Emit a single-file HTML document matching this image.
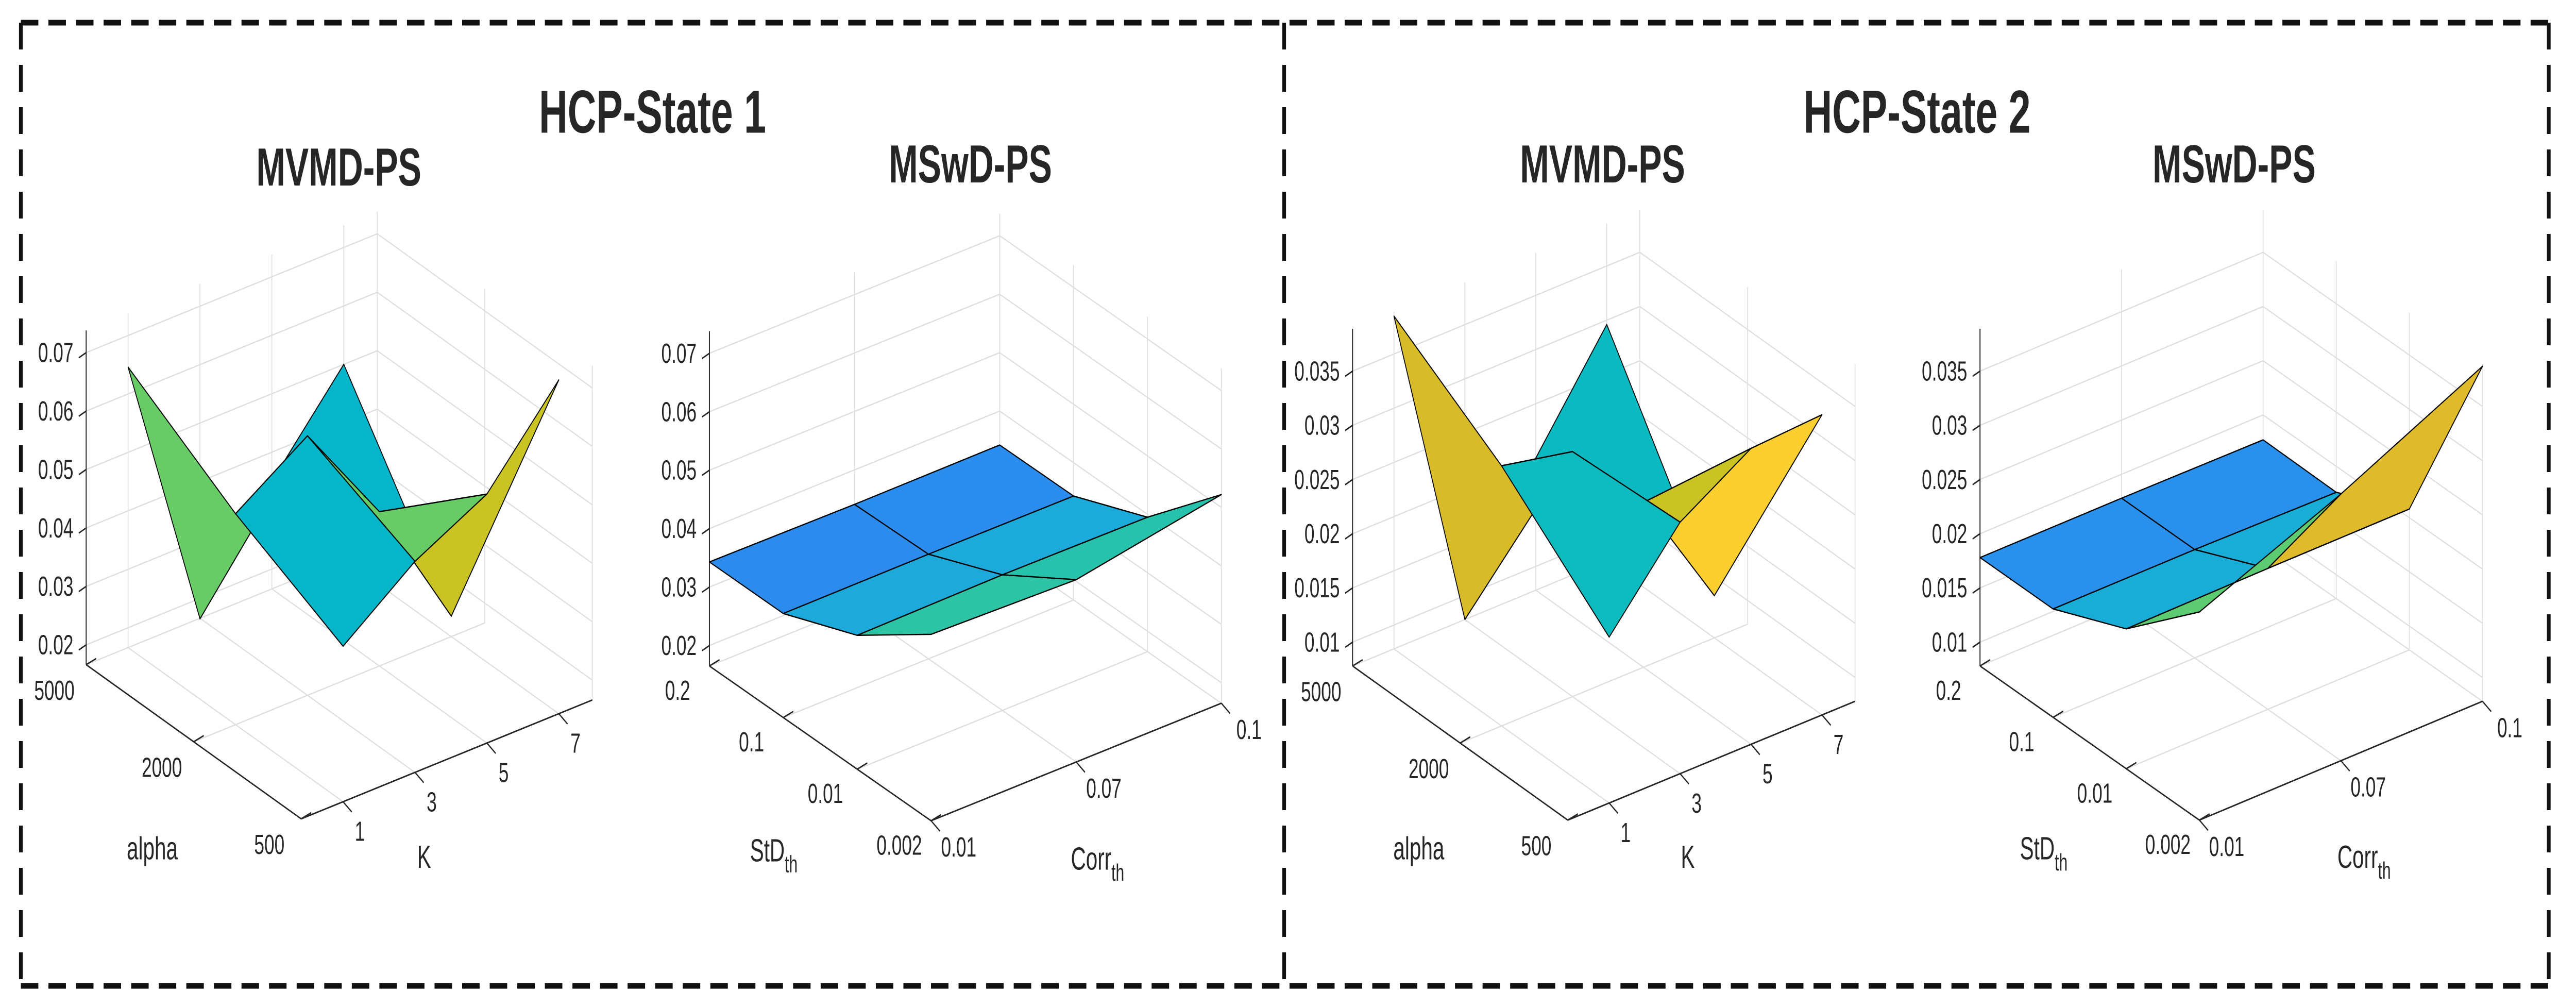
<!DOCTYPE html>
<html><head><meta charset="utf-8"><style>
html,body{margin:0;padding:0;background:#fff;width:100%;height:100%;overflow:hidden;}
svg{display:block;width:100vw;height:100vh;}
text{font-family:"Liberation Sans",Arial,sans-serif;fill:#262626;}
</style></head>
<body>
<svg id="fig" viewBox="0 0 7659 1954" preserveAspectRatio="none" xmlns="http://www.w3.org/2000/svg">
<rect x="0" y="0" width="7659" height="1954" fill="#fff"/>
<g id="layer"></g>
</svg>
<script>
// ---- data ----
const alphaTicks = ['5000','2000','500'];
const kTicks = ['1','3','5','7'];
const stdTicks = ['0.2','0.1','0.01','0.002'];
const corrTicks = ['0.01','0.07','0.1'];
const zTicksState1 = [0.02,0.03,0.04,0.05,0.06,0.07];
const zTicksState2 = [0.01,0.015,0.02,0.025,0.03,0.035];
// rows: alpha 5000,2000,500 ; cols: K 1,3,5,7
const mvmd1 = [
  [0.0646,0.0165,0.0350,0.0500],
  [0.0527,0.0610,0.0430,0.0201],
  [0.0432,0.0527,0.0592,0.0737]];
// rows: StD 0.2,0.1,0.01,0.002 ; cols: Corr 0.01,0.07,0.1
const mswd1 = [
  [0.0343,0.0341,0.0342],
  [0.0343,0.0344,0.0343],
  [0.0394,0.0397,0.0395],
  [0.0484,0.0477,0.0522]];
const mvmd2 = [
  [0.0385,0.0078,0.0200,0.0296],
  [0.0318,0.0304,0.0230,0.0117],
  [0.0231,0.0310,0.0351,0.0355]];
const mswd2 = [
  [0.0178,0.0178,0.0177],
  [0.0178,0.0178,0.0176],
  [0.0207,0.0208,0.0208],
  [0.0270,0.0324,0.0387]];

const NS='http://www.w3.org/2000/svg';
const layer=document.getElementById('layer');
function mk(tag,attrs,parent){const e=document.createElementNS(NS,tag);for(const k in attrs)e.setAttribute(k,attrs[k]);(parent||layer).appendChild(e);return e;}

const cmap=[[0,[62,38,168]],[0.15,[74,82,240]],[0.31,[43,140,237]],[0.4,[30,169,219]],[0.47,[3,183,200]],[0.5,[16,188,187]],[0.56,[47,196,165]],[0.63,[102,204,102]],[0.745,[201,195,36]],[0.78,[219,185,42]],[0.88,[252,207,48]],[1,[249,251,14]]];
function col(t){t=Math.max(0,Math.min(1,t));for(let i=1;i<cmap.length;i++){if(t<=cmap[i][0]){const a=cmap[i-1],b=cmap[i];const f=(t-a[0])/(b[0]-a[0]);const c=a[1].map((v,j)=>Math.round(v+(b[1][j]-v)*f));return 'rgb('+c.join(',')+')';}}return 'rgb(249,251,14)';}

function dline(x1,y1,x2,y2,name){
  const l=mk('line',{x1:x1,y1:y1,x2:x2,y2:y2,stroke:'#111','stroke-width':11,'stroke-dasharray':'52 30'});
  
  
}
dline(62,44,7578,44,'panel-border-top');
dline(62,1913,7578,1913,'panel-border-bottom');
dline(62,44,62,1913,'panel-border-left');
dline(7578,44,7578,1913,'panel-border-right');
dline(3818,44,3818,1913,'panel-divider');

function txt(x,y,s,size,opts,name){
  const t=mk('text',{x:x,y:y,'font-size':size,'text-anchor':(opts&&opts.anchor)||'middle','dominant-baseline':'central','font-weight':(opts&&opts.bold)?'bold':'normal'});
  t.textContent=s;
  
  
  return t;
}

function plot(cfg){
  const g=mk('g',{});
  
  
  const sx=cfg.sx, sy=1954/1568, off=cfg.off;
  const fa=cfg.fa, fk=cfg.fk;
  function P(a,k,z){
    const x=cfg.A[0]+a*(cfg.B[0]-cfg.A[0])+k*(cfg.C[0]-cfg.B[0]);
    const y=cfg.A[1]+a*(cfg.B[1]-cfg.A[1])+k*(cfg.C[1]-cfg.B[1])-(z-cfg.zmin)*cfg.ppu;
    return [off+x*sx,y*sy];
  }
  const zmin=cfg.zmin,zmax=cfg.zmax;
  const line=(p,q,st,w,name)=>{const l=mk('line',{x1:p[0],y1:p[1],x2:q[0],y2:q[1],stroke:st,'stroke-width':w},g);return l;};
  const GR='#dedede';
  fk.forEach((k,i)=>line(P(0,k,zmin),P(0,k,zmax),GR,2.5,'grid-line'));
  fa.forEach((a,i)=>line(P(a,1,zmin),P(a,1,zmax),GR,2.5,'grid-line'));
  cfg.zt.forEach(z=>{line(P(0,0,z),P(0,1,z),GR,2.5,'grid-line');line(P(0,1,z),P(1,1,z),GR,2.5,'grid-line');});
  fa.forEach(a=>line(P(a,0,zmin),P(a,1,zmin),GR,2.5,'grid-line'));
  fk.forEach(k=>line(P(0,k,zmin),P(1,k,zmin),GR,2.5,'grid-line'));
  line(P(0,0,zmin),P(0,0,zmax),'#262626',3,'z-axis');
  line(P(0,0,zmin),P(1,0,zmin),'#262626',3,cfg.rowAxisName);
  line(P(1,0,zmin),P(1,1,zmin),'#262626',3,cfg.colAxisName);
  cfg.zt.forEach(z=>{
    const p=P(0,0,z);
    line(p,[p[0]-22,p[1]+10],'#262626',3,'z-tick');
    txt(p[0]-38,p[1],String(z),54,{anchor:'end'},'z-tick-label');
  });
  cfg.rowLabels.forEach((s,i)=>{
    const p=P(fa[i],0,zmin);
    line(p,[p[0]+30,p[1]-12],'#262626',3,'row-tick');
    txt(p[0]+cfg.rowOff[0]*sx,p[1]+cfg.rowOff[1]*sy,s,54,{},'row-tick-label');
  });
  cfg.colLabels.forEach((s,i)=>{
    const p=P(1,fk[i],zmin);
    line(p,[p[0]+26,p[1]+20],'#262626',3,'col-tick');
    txt(p[0]+cfg.colOff[0]*sx,p[1]+cfg.colOff[1]*sy,s,54,{},'col-tick-label');
  });
  const Z=cfg.Z;const faces=[];
  for(let i=0;i<Z.length-1;i++)for(let j=0;j<Z[0].length-1;j++){
    faces.push({i,j,key:(fa[i]+fa[i+1])/2-(fk[j]+fk[j+1])/2});
  }
  faces.sort((a,b)=>a.key-b.key);
  faces.forEach(f=>{
    const i=f.i,j=f.j;
    const pts=[P(fa[i],fk[j],Z[i][j]),P(fa[i],fk[j+1],Z[i][j+1]),P(fa[i+1],fk[j+1],Z[i+1][j+1]),P(fa[i+1],fk[j],Z[i+1][j])];
    const c=col((Z[i+1][j]-zmin)/(zmax-zmin));
    const pg=mk('polygon',{points:pts.map(p=>p[0].toFixed(1)+','+p[1].toFixed(1)).join(' '),fill:c,stroke:'#000','stroke-width':2.5,'stroke-linejoin':'round'},g);
    
    
  });
  return {g,sx,sy,off};
}

const L=3900/1568, R=3859/1568, SY=1954/1568;
const kPos=[0.144,0.391,0.638,0.885];
plot({name:'mvmd-ps-state-1',off:0,sx:L,A:[103,1035],B:[360,1275],C:[708,1090],zmin:0.0166,zmax:0.0738,ppu:9100,fa:[0,0.5,1],fk:kPos,Z:mvmd1,zt:zTicksState1,rowLabels:alphaTicks,colLabels:kTicks,rowOff:[-38,40],colOff:[20,46],rowAxisName:'alpha-axis',colAxisName:'k-axis'});
plot({name:'mswd-ps-state-1',off:0,sx:L,A:[848,1037],B:[1113,1278],C:[1460,1095],zmin:0.0165,zmax:0.0738,ppu:9100,fa:[0,1/3,2/3,1],fk:[0,0.5,1],Z:mswd1,zt:zTicksState1,rowLabels:stdTicks,colLabels:corrTicks,rowOff:[-38,38],colOff:[33,41],rowAxisName:'stdth-axis',colAxisName:'corrth-axis'});
plot({name:'mvmd-ps-state-2',off:3800,sx:R,A:[90,1037],B:[350,1277],C:[697,1092],zmin:0.0078,zmax:0.0389,ppu:16880,fa:[0,0.5,1],fk:kPos,Z:mvmd2,zt:zTicksState2,rowLabels:alphaTicks,colLabels:kTicks,rowOff:[-38,40],colOff:[20,46],rowAxisName:'alpha-axis',colAxisName:'k-axis'});
plot({name:'mswd-ps-state-2',off:3800,sx:R,A:[848,1037],B:[1113,1277],C:[1455,1092],zmin:0.0078,zmax:0.0389,ppu:16880,fa:[0,1/3,2/3,1],fk:[0,0.5,1],Z:mswd2,zt:zTicksState2,rowLabels:stdTicks,colLabels:corrTicks,rowOff:[-38,38],colOff:[33,41],rowAxisName:'stdth-axis',colAxisName:'corrth-axis'});

txt(780*L,175*SY,'HCP-State 1',118,{bold:true},'state-1-title');
txt(405*L,260*SY,'MVMD-PS',104,{bold:true},'mvmd-ps-title');
txt(1160*L,255*SY,'MSwD-PS',104,{bold:true},'mswd-ps-title');
txt(3800+772*R,175*SY,'HCP-State 2',118,{bold:true},'state-2-title');
txt(3800+392*R,255*SY,'MVMD-PS',104,{bold:true},'mvmd-ps-title');
txt(3800+1155*R,255*SY,'MSwD-PS',104,{bold:true},'mswd-ps-title');

function sub(x,y,main,s,name){
  const t=mk('text',{x:x,y:y,'font-size':62,'text-anchor':'middle','dominant-baseline':'central'});
  
  
  t.appendChild(document.createTextNode(main));
  const ts=mk('tspan',{'font-size':46,dy:26},t);ts.textContent=s;
}
txt(182*L,1322*SY,'alpha',62,{},'alpha-axis-title');
txt(507*L,1335*SY,'K',62,{},'k-axis-title');
sub(925*L,1325*SY,'StD','th','stdth-axis-title');
sub(1312*L,1338*SY,'Corr','th','corrth-axis-title');
txt(3800+170*R,1322*SY,'alpha',62,{},'alpha-axis-title');
txt(3800+495*R,1335*SY,'K',62,{},'k-axis-title');
sub(3800+925*R,1322*SY,'StD','th','stdth-axis-title');
sub(3800+1312*R,1335*SY,'Corr','th','corrth-axis-title');
</script>
</body></html>
